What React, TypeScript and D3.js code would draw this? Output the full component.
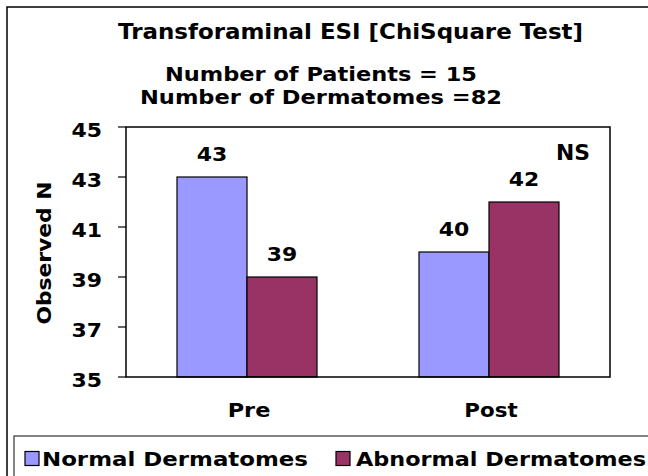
import React from "react";
import * as d3 from "d3";

const categories = ["Pre", "Post"];
const seriesNames = ["Normal Dermatomes", "Abnormal Dermatomes"];
const normalValues = [43, 40];
const abnormalValues = [39, 42];
const yTicks = [35, 37, 39, 41, 43, 45];
const titleText = "Transforaminal ESI [ChiSquare Test]";
const subtitleLines = ["Number of Patients = 15", "Number of Dermatomes =82"];
const yAxisTitle = "Observed N";
const annotation = "NS";

const colors = ["#9999FF", "#993366"];
const FONT = "'DejaVu Sans', Verdana, sans-serif";

export default function App() {
  const W = 648, H = 476;
  const left = 126, right = 610, top = 127, bottom = 377;
  const y = d3.scaleLinear().domain([35, 45]).range([bottom, top]);
  const p = 102 / 242;
  const x0 = d3.scaleBand().domain(categories).range([left, right]).paddingInner(p).paddingOuter(p / 2);
  const x1 = d3.scaleBand().domain(seriesNames).range([0, x0.bandwidth()]);
  const series = [normalValues, abnormalValues];

  return (
    <svg width={W} height={H} style={{ position: "absolute", left: 0, top: 0, background: "#fff" }}>
      <rect x={0} y={0} width={W} height={H} fill="#fff" />
      {/* outer frame */}
      <rect x={7} y={7} width={W + 20} height={H + 20} fill="none" stroke="#000" strokeWidth={1.5} />
      {/* title */}
      <text x={350.5} y={38.5} textAnchor="middle" fontFamily={FONT} fontWeight="bold" fontSize={20.5}
        textLength={465} lengthAdjust="spacingAndGlyphs">{titleText}</text>
      <text x={321} y={80.5} textAnchor="middle" fontFamily={FONT} fontWeight="bold" fontSize={19.5}
        textLength={312} lengthAdjust="spacingAndGlyphs">{subtitleLines[0]}</text>
      <text x={321} y={104} textAnchor="middle" fontFamily={FONT} fontWeight="bold" fontSize={19.5}
        textLength={362} lengthAdjust="spacingAndGlyphs">{subtitleLines[1]}</text>

      {/* bars */}
      {categories.map((c, ci) =>
        series.map((vals, si) => {
          const bx = (x0(c) as number) + (x1(seriesNames[si]) as number);
          const bw = x1.bandwidth();
          const v = vals[ci];
          return (
            <g key={c + si}>
              <rect x={bx} y={y(v)} width={bw} height={bottom - y(v)} fill={colors[si]} stroke="#000" strokeWidth={1.2} />
              <text x={bx + bw / 2} y={y(v) - 16.5} textAnchor="middle" fontFamily={FONT} fontWeight="bold"
                fontSize={20} textLength={30.5} lengthAdjust="spacingAndGlyphs">{v}</text>
            </g>
          );
        })
      )}

      {/* plot frame */}
      <rect x={left} y={top} width={right - left} height={bottom - top} fill="none" stroke="#000" strokeWidth={1.5} />

      {/* y ticks */}
      {yTicks.map((t) => (
        <g key={t}>
          <line x1={118} x2={left} y1={y(t)} y2={y(t)} stroke="#000" strokeWidth={1.2} />
          <text x={102} y={y(t) + 10} textAnchor="end" fontFamily={FONT} fontWeight="bold" fontSize={20}
            textLength={30.5} lengthAdjust="spacingAndGlyphs">{t}</text>
        </g>
      ))}

      {/* y axis title */}
      <text transform={`translate(51,${(top + bottom) / 2 + 1}) rotate(-90)`} textAnchor="middle" fontFamily={FONT}
        fontWeight="bold" fontSize={20} textLength={143} lengthAdjust="spacingAndGlyphs">{yAxisTitle}</text>

      {/* category labels */}
      {categories.map((c, i) => (
        <text key={c} x={(x0(c) as number) + x0.bandwidth() / 2 + 2} y={417} textAnchor="middle" fontFamily={FONT}
          fontWeight="bold" fontSize={20} textLength={i === 0 ? 42.7 : 53.3} lengthAdjust="spacingAndGlyphs">{c}</text>
      ))}

      {/* NS annotation */}
      <text x={573} y={160} textAnchor="middle" fontFamily={FONT} fontWeight="bold" fontSize={20.5}
        textLength={34} lengthAdjust="spacingAndGlyphs">{annotation}</text>

      {/* legend */}
      <rect x={14} y={436} width={W + 20} height={60} fill="#fff" stroke="#333" strokeWidth={1.2} />
      {seriesNames.map((s, i) => {
        const sx = i === 0 ? 25 : 336;
        const tx = i === 0 ? 42 : 356;
        const tw = i === 0 ? 266 : 290;
        return (
          <g key={s}>
            <rect x={sx} y={451.5} width={14} height={14} fill={colors[i]} stroke="#000" strokeWidth={1.2} />
            <text x={tx} y={465.5} fontFamily={FONT} fontWeight="bold" fontSize={19.5} textLength={tw}
              lengthAdjust="spacingAndGlyphs">{s}</text>
          </g>
        );
      })}
    </svg>
  );
}
